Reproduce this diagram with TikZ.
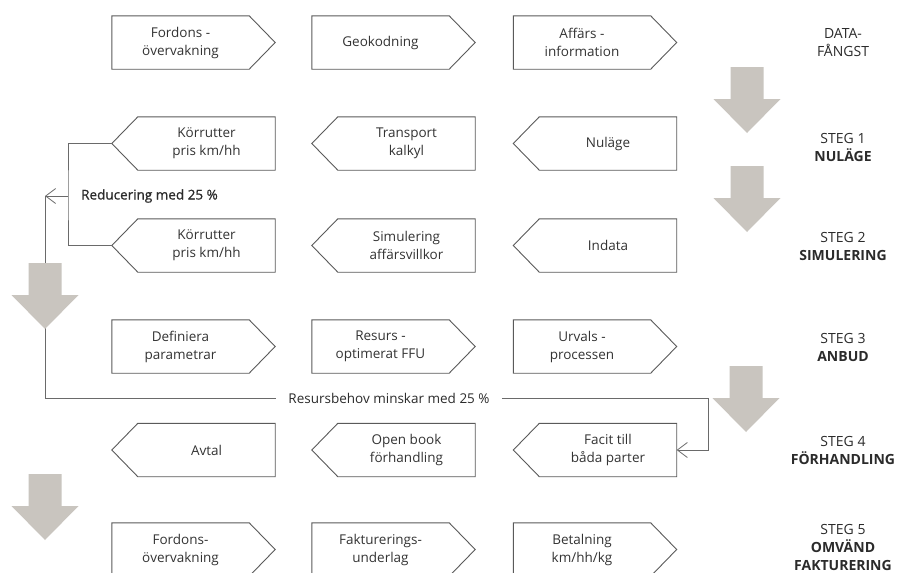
\documentclass[tikz,border=0pt]{standalone}
\usepackage{fontspec}
\setmainfont{Open Sans}
\usetikzlibrary{arrows.meta}
\definecolor{boxline}{HTML}{5A5A5A}
\definecolor{txt}{HTML}{333333}
\definecolor{arrowgray}{HTML}{C9C5BF}
\definecolor{connc}{HTML}{6A6A6A}
\tikzset{
  boxtext/.style={minimum width=137pt, minimum height=53pt, inner sep=0pt, align=center,
    font=\fontsize{13.5}{18}\selectfont, text=txt},
  boxoutline/.style={draw=boxline, line width=0.9pt, line join=miter},
  lab/.style={align=center, inner sep=0pt, font=\fontsize{14}{18}\selectfont, text=txt!85!black},
  note/.style={inner sep=0pt, font=\fontsize{13.5}{16}\selectfont, text=txt!85!black},
  connline/.style={draw=connc, line width=0.8pt},
  barb/.style={-{Straight Barb[length=10pt,width=15pt,line width=0.8pt]}}
}
\newcommand\myR[4]{%
  \node[boxtext] (#1) at (#2,#3) {#4};
  \draw[boxoutline] (#1.north west) -- (#1.north east) -- ([xshift=26pt]#1.east) -- (#1.south east) -- (#1.south west) -- cycle;
  \coordinate (#1-tip) at ([xshift=26pt]#1.east);}
\newcommand\myL[4]{%
  \node[boxtext] (#1) at (#2,#3) {#4};
  \draw[boxoutline] (#1.north east) -- (#1.south east) -- (#1.south west) -- ([xshift=-26pt]#1.west) -- (#1.north west) -- cycle;
  \coordinate (#1-tip) at ([xshift=-26pt]#1.west);}
\newcommand\grayarr[2]{%
  \fill[arrowgray] (#1-16.5,#2) -- (#1+16.5,#2) -- (#1+16.5,#2+32) -- (#1+33.5,#2+32) -- (#1,#2+66) -- (#1-33.5,#2+32) -- (#1-16.5,#2+32) -- cycle;}
\begin{document}
\begin{tikzpicture}[x=1pt,y=-1pt]
\clip (0,0) rectangle (906,573);
\fill[white] (0,0) rectangle (906,573);
% row: data capture
\myR{d1}{180.5}{42.5}{Fordons -\\övervakning}
\myR{d2}{380.5}{42.5}{Geokodning}
\myR{d3}{582}{42.5}{Affärs -\\information}
% steg 1
\myL{a1}{206.5}{143.5}{Körrutter\\pris km/hh}
\myL{a2}{406.5}{143.5}{Transport\\kalkyl}
\myL{a3}{608}{143.5}{Nuläge}
% steg 2
\myL{b1}{206.5}{245.5}{Körrutter\\pris km/hh}
\myL{b2}{406.5}{245.5}{Simulering\\affärsvillkor}
\myL{b3}{608}{245.5}{Indata}
% steg 3
\myR{c1}{180.5}{346.5}{Definiera\\parametrar}
\myR{c2}{380.5}{346.5}{Resurs -\\optimerat FFU}
\myR{c3}{582}{346.5}{Urvals -\\processen}
% steg 4
\myL{e1}{206.5}{450}{Avtal}
\myL{e2}{406.5}{450}{Open book\\förhandling}
\myL{e3}{608}{450}{Facit till\\båda parter}
% steg 5
\myR{f1}{180.5}{549.5}{Fordons-\\övervakning}
\myR{f2}{380.5}{549.5}{Fakturerings-\\underlag}
\myR{f3}{582}{549.5}{Betalning\\km/hh/kg}
% labels on the right
\node[lab] (l0) at (843,43) {DATA-\\FÅNGST};
\node[lab] (l1) at (843,147) {STEG 1\\\textbf{NULÄGE}};
\node[lab] (l2) at (843,246) {STEG 2\\\textbf{SIMULERING}};
\node[lab] (l3) at (843,347) {STEG 3\\\textbf{ANBUD}};
\node[lab] (l4) at (843,450) {STEG 4\\\textbf{FÖRHANDLING}};
\node[lab] (l5) at (843,547) {STEG 5\\\textbf{OMVÄND}\\\textbf{FAKTURERING}};
% connectors
\node[note, anchor=west] (red) at (81,196) {\addfontfeatures{FakeBold=1}Reducering med 25 \%};
\node[note, inner xsep=12pt] (res) at (389,398) {Resursbehov minskar med 25 \%};
\coordinate (loopx) at (68,196);
\coordinate (turn) at (45,196);
\coordinate (rcorner) at (708,398);
\draw[connline] (a1-tip) -| (loopx) |- (b1-tip);
\draw[connline, barb] (loopx) -- (turn);
\draw[connline] (turn) |- (res.west);
\draw[connline, barb] (res.east) -- (rcorner) |- (e3.east);
% big gray arrows
\grayarr{747}{67}
\grayarr{747}{166}
\grayarr{45}{263}
\grayarr{746}{366}
\grayarr{45}{474}
\end{tikzpicture}
\end{document}
